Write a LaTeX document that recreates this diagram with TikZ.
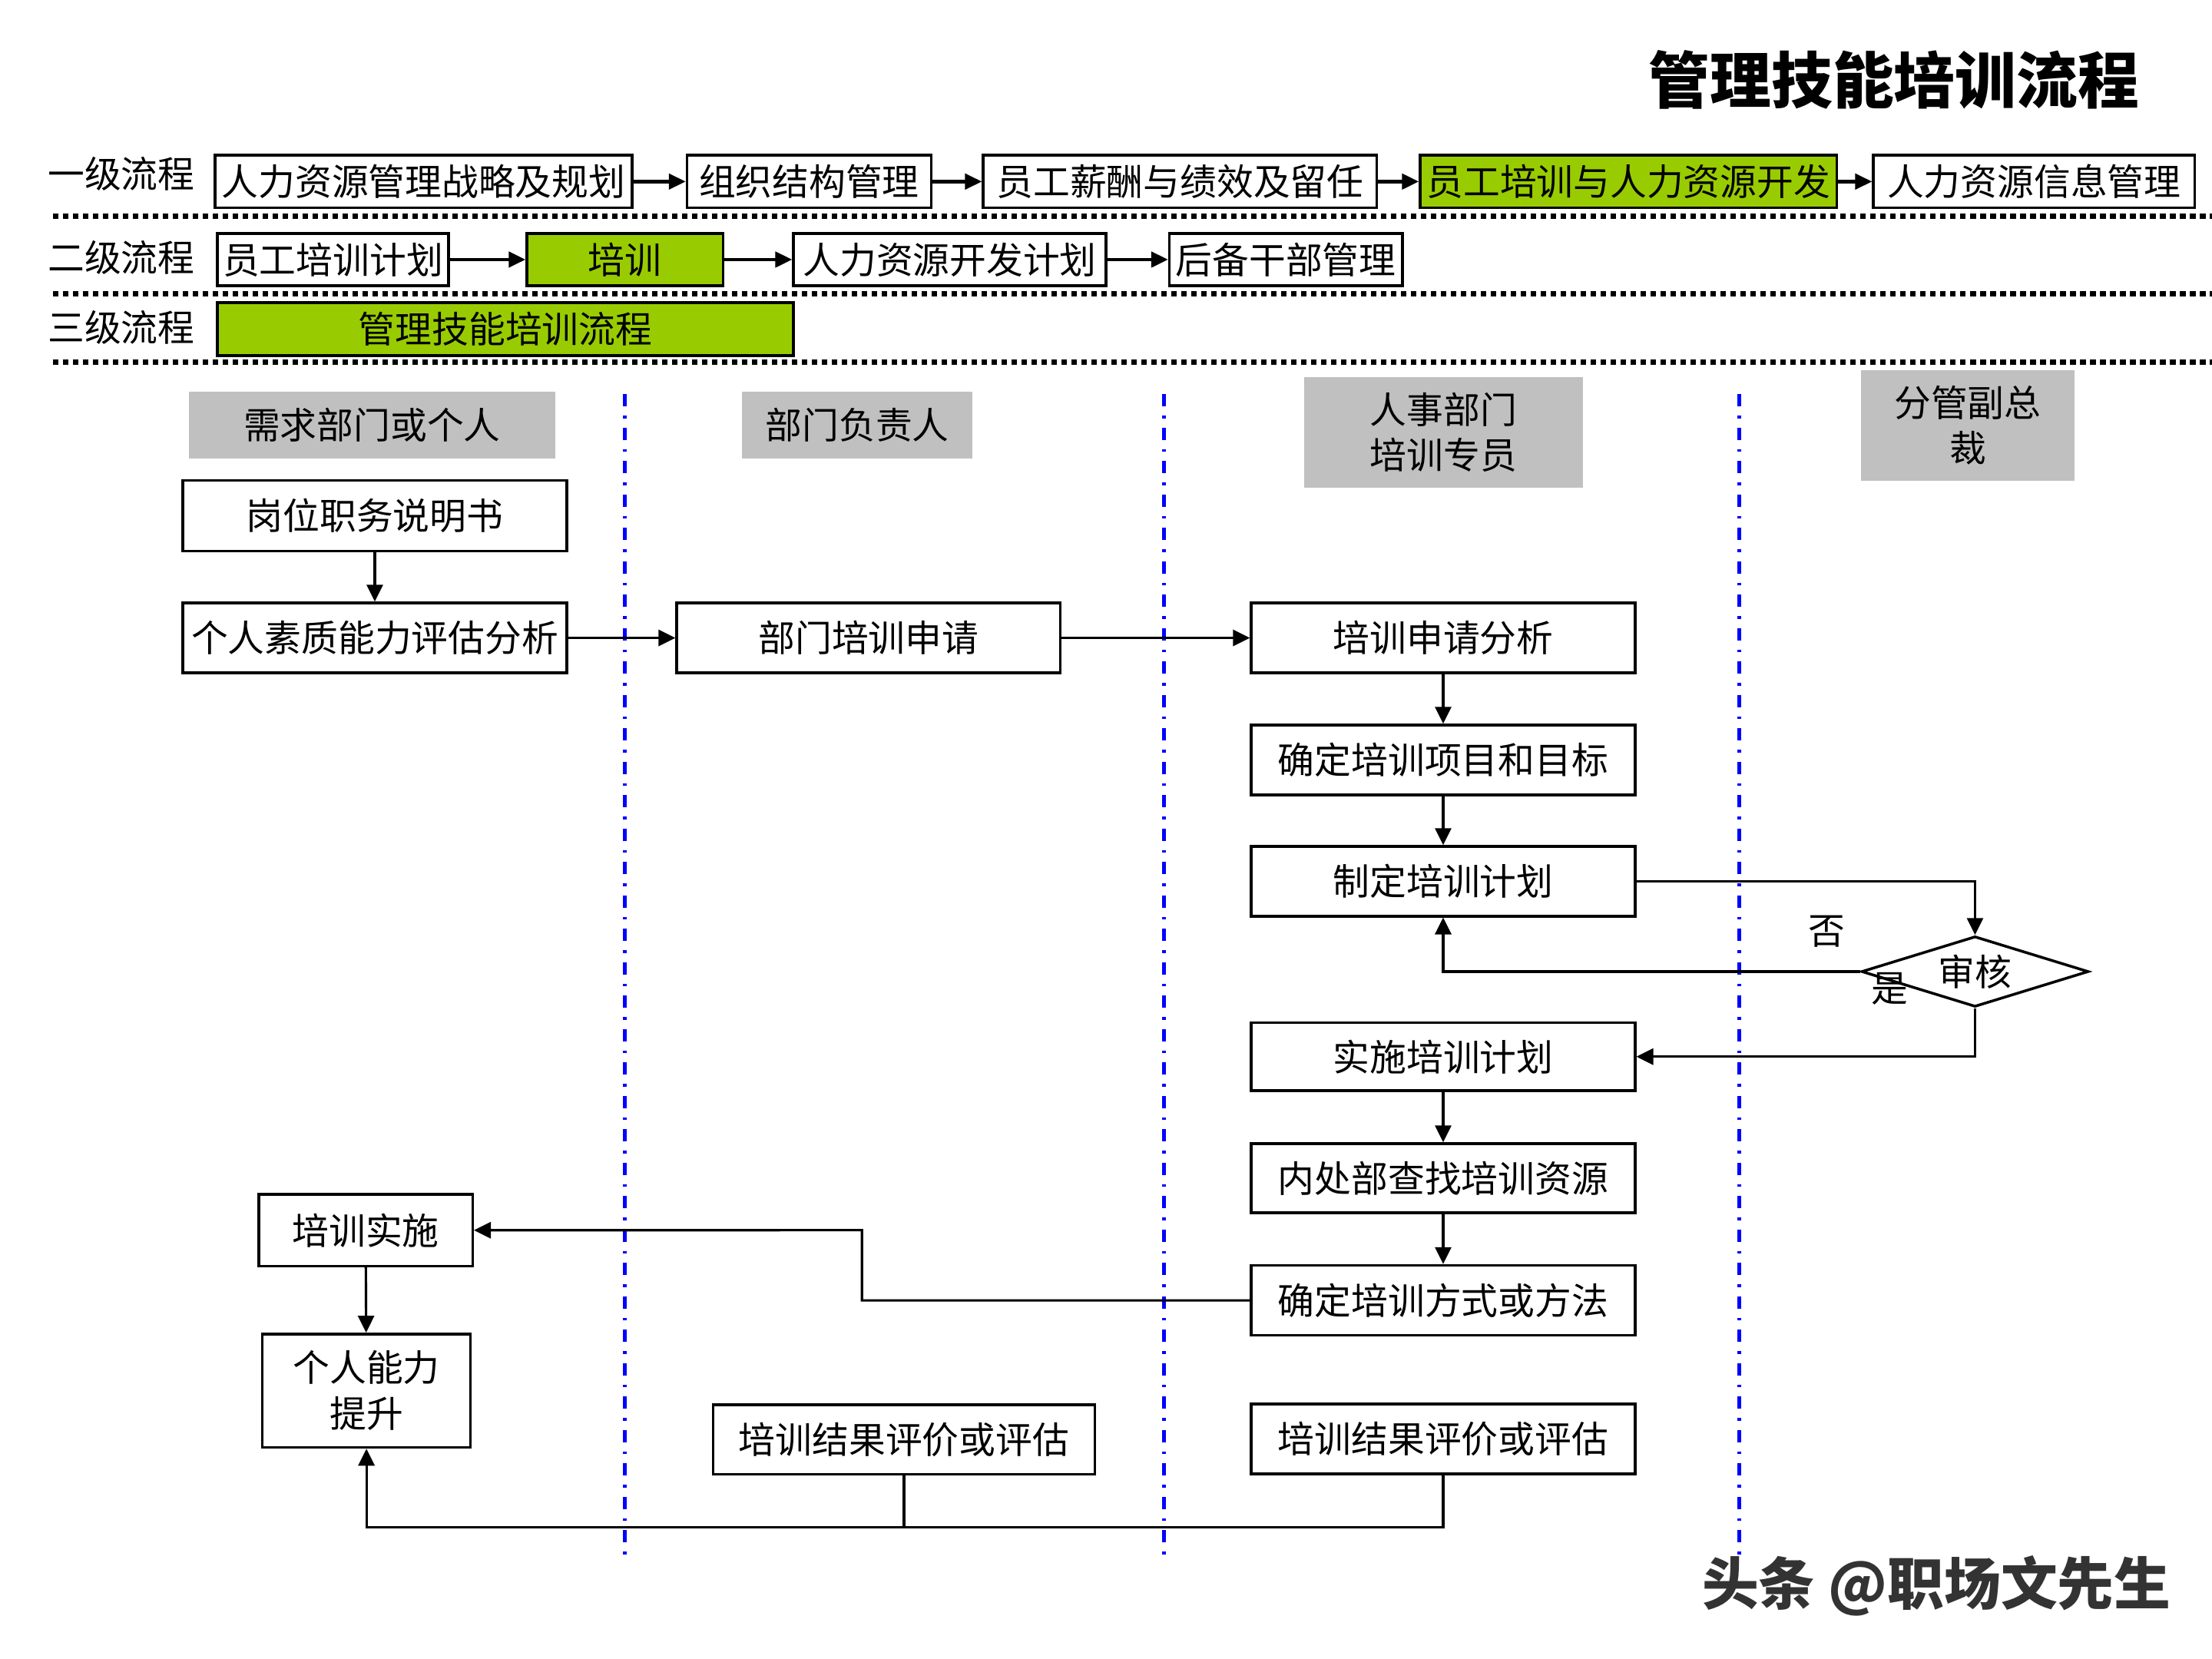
\documentclass[tikz,border=0pt]{standalone}
\usepackage{fontspec}
\setmainfont{Noto Sans CJK SC}
\usetikzlibrary{arrows.meta,shapes.geometric}
\newdimen\upx \upx=0.018367cm
\definecolor{grn}{HTML}{99CC00}
\definecolor{hdrgray}{HTML}{C0C0C0}
\definecolor{laneblue}{HTML}{0000FF}
\newcommand\fsz{\fontsize{13.6pt}{17pt}\selectfont}
\newcommand\bx[7]{\node[#6, minimum width={(#4-#2)*\upx}, minimum height={(#5-#3)*\upx}] (#1) at ({(#2+#4)/2},{(#3+#5)/2}) {#7};}
\begin{document}
\begin{tikzpicture}[x=0.018367cm, y=-0.018367cm,
  box/.style={draw, line width=1pt, inner sep=0pt, font=\fsz, fill=white},
  gbox/.style={box, fill=grn},
  hdr/.style={fill=hdrgray, inner sep=0pt, align=center, font=\fsz},
  lbl/.style={inner sep=0pt, font=\fsz},
  sep/.style={line width=2pt, dash pattern=on 2.1pt off 1.6pt},
  lane/.style={laneblue, line width=1.3pt, dash pattern=on 0.16cm off 0.12cm on 0.035cm off 0.12cm},
  conn/.style={line width=0.9pt, -{Triangle[length=0.22cm,width=0.21cm]}},
  tconn/.style={line width=1.3pt, -{Triangle[length=0.22cm,width=0.2cm]}},
  plain/.style={line width=0.9pt}]
\useasboundingbox (0,0) rectangle (1568,1176);
\fill[white] (0,0) rectangle (1568,1176);

% title
\node[inner sep=0pt, font=\fontsize{22.7pt}{26pt}\selectfont\bfseries] (title) at (1342.5,56.5) {管理技能培训流程};

% level labels
\node[lbl] (l1) at (86,123.4) {一级流程};
\node[lbl] (l2) at (86,182.4) {二级流程};
\node[lbl] (l3) at (86,232.3) {三级流程};

% row 1
\bx{r1a}{152.5}{110}{448}{147.4}{box}{人力资源管理战略及规划}
\bx{r1b}{487}{110}{660}{147.4}{box}{组织结构管理}
\bx{r1c}{697}{110}{976}{147.4}{box}{员工薪酬与绩效及留任}
\bx{r1d}{1006.7}{110}{1302}{147.4}{gbox}{员工培训与人力资源开发}
\bx{r1e}{1328}{110}{1555.6}{147.4}{box}{人力资源信息管理}
\draw[tconn] (r1a) -- (r1b);
\draw[tconn] (r1b) -- (r1c);
\draw[tconn] (r1c) -- (r1d);
\draw[tconn] (r1d) -- (r1e);

% row 2
\bx{r2a}{154}{165.5}{318}{202.5}{box}{员工培训计划}
\bx{r2b}{373.5}{165.5}{512.5}{202.5}{gbox}{培训}
\bx{r2c}{562.5}{165.5}{784}{202.5}{box}{人力资源开发计划}
\bx{r2d}{829}{165.5}{994}{202.5}{box}{后备干部管理}
\draw[tconn] (r2a) -- (r2b);
\draw[tconn] (r2b) -- (r2c);
\draw[tconn] (r2c) -- (r2d);

% row 3
\bx{r3a}{154}{214.5}{562.5}{252}{gbox}{管理技能培训流程}

% separators
\coordinate (s1a) at (37.5,153.4); \coordinate (s1b) at (1568,153.4);
\coordinate (s2a) at (37.5,208.3); \coordinate (s2b) at (1568,208.3);
\coordinate (s3a) at (37.5,256.5); \coordinate (s3b) at (1568,256.5);
\draw[sep] (s1a) -- (s1b);
\draw[sep] (s2a) -- (s2b);
\draw[sep] (s3a) -- (s3b);

% lane lines
\coordinate (v1a) at (443,279.5); \coordinate (v1b) at (443,1102.5);
\coordinate (v2a) at (825,279.5); \coordinate (v2b) at (825,1102.5);
\coordinate (v3a) at (1233,279.5); \coordinate (v3b) at (1233,1102.5);
\draw[lane] (v1a) -- (v1b);
\draw[lane] (v2a) -- (v2b);
\draw[lane] (v3a) -- (v3b);

% headers
\bx{h1}{134}{277.7}{393.4}{324.9}{hdr}{需求部门或个人}
\bx{h2}{526}{277.7}{689.3}{324.9}{hdr}{部门负责人}
\bx{h3}{924.5}{267.3}{1122}{345.5}{hdr}{人事部门\\培训专员}
\bx{h4}{1319}{262.4}{1470.6}{340.6}{hdr}{分管副总\\裁}

% flow boxes
\bx{job}{129.6}{340.6}{401.8}{390.7}{box}{岗位职务说明书}
\bx{self}{129.6}{427.4}{401.8}{477}{box}{个人素质能力评估分析}
\bx{dept}{479.7}{427.4}{751.7}{477}{box}{部门培训申请}
\bx{anal}{887}{427.4}{1159}{477}{box}{培训申请分析}
\bx{goal}{887}{514}{1159}{563.5}{box}{确定培训项目和目标}
\bx{plan}{887}{600}{1159}{649.4}{box}{制定培训计划}
\node[diamond, draw, line width=1pt, inner sep=0pt, aspect=3.2, minimum width={161*\upx}, minimum height={50*\upx}, font=\fsz, fill=white] (audit) at (1400,688.7) {审核};
\bx{impl}{887}{725}{1159}{773}{box}{实施培训计划}
\bx{res}{887}{810.7}{1159}{859.7}{box}{内处部查找培训资源}
\bx{meth}{887}{897}{1159}{946.6}{box}{确定培训方式或方法}
\bx{evalR}{887}{995.3}{1159}{1044.7}{box}{培训结果评价或评估}
\bx{evalM}{505.4}{995.8}{776.2}{1045}{box}{培训结果评价或评估}
\bx{exec}{183.4}{846.7}{335}{897.4}{box}{培训实施}
\bx{abil}{186}{945.6}{333.5}{1026}{box,align=center}{个人能力\\提升}

\node[lbl] (no) at (1294.7,660.5) {否};
\node[lbl] (yes) at (1339.4,701) {是};

% connectors
\draw[conn] (job) -- (self);
\draw[conn] (self) -- (dept);
\draw[conn] (dept) -- (anal);
\draw[conn] (anal) -- (goal);
\draw[conn] (goal) -- (plan);
\draw[conn] (plan.east) -| (audit.north);
\draw[conn] (audit.west) -| (plan.south);
\draw[conn] (audit.south) |- (impl.east);
\draw[conn] (impl) -- (res);
\draw[conn] (res) -- (meth);
\coordinate (bend) at (611,872);
\draw[conn] (meth.west) -| (bend) -- (exec.east);
\draw[conn] (exec) -- (abil);
\coordinate (bot) at (259.75,1082.4);
\draw[conn] (evalR.south) |- (bot) -- (abil.south);
\draw[plain] (evalM.south) -- (evalM.south |- bot);

% watermark
\node[inner sep=0pt, font=\fontsize{21pt}{25pt}\selectfont\bfseries, text=black!80] (wm) at (1372.7,1124) {头条 @职场文先生};
\end{tikzpicture}
\end{document}
